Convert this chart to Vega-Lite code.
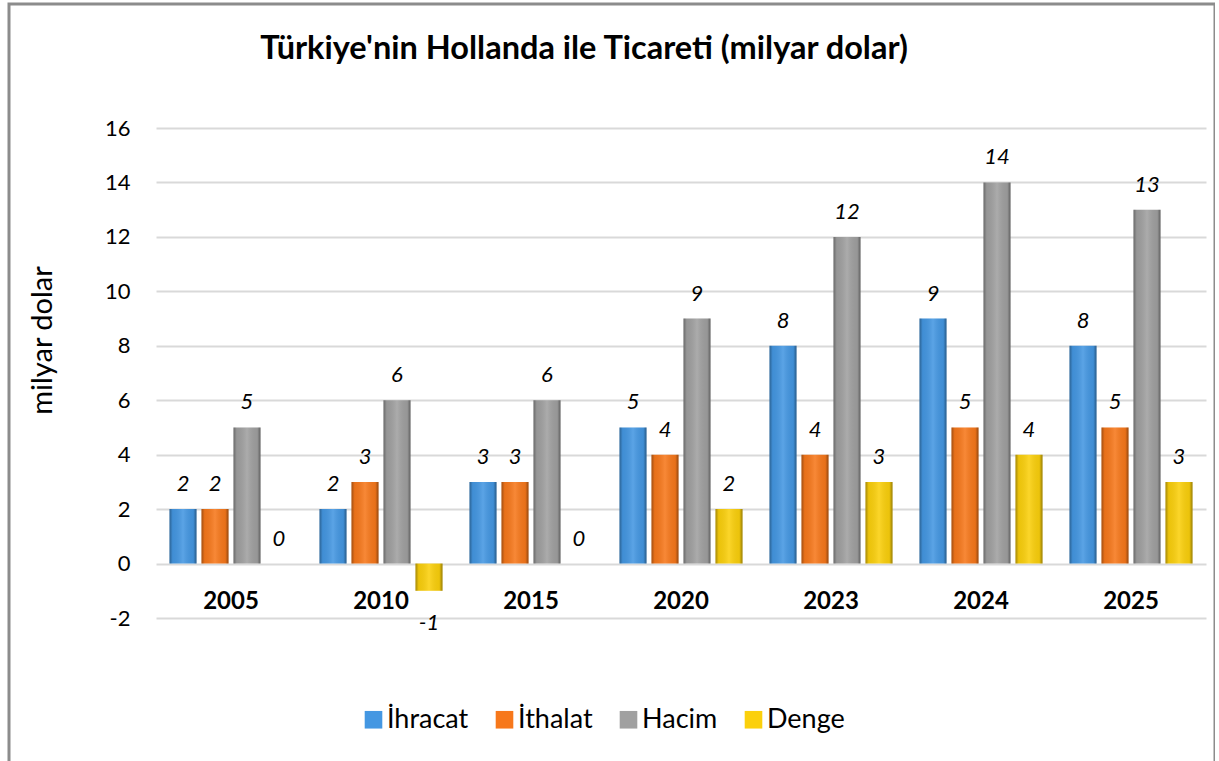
{
  "$schema": "https://vega.github.io/schema/vega-lite/v6.json",
  "autosize": "none",
  "padding": {"left": 9, "top": 4, "right": 0, "bottom": 0},
  "width": 1206,
  "height": 780,
  "background": "white",
  "config": {"view": {"stroke": "#8c8c8c", "strokeWidth": 3, "fill": "white"}, "font": "Lato"},
  "title": {
    "text": "Türkiye'nin Hollanda ile Ticareti (milyar dolar)",
    "font": "Lato", "fontSize": 32.5, "fontWeight": "bold", "color": "black",
    "anchor": "middle", "dx": -28, "dy": 87, "offset": 0, "baseline": "alphabetic"
  },
  "data": {"values": [
    {"year": "2005", "series": "İhracat", "value": 2},
    {"year": "2005", "series": "İthalat", "value": 2},
    {"year": "2005", "series": "Hacim", "value": 5},
    {"year": "2005", "series": "Denge", "value": 0},
    {"year": "2010", "series": "İhracat", "value": 2},
    {"year": "2010", "series": "İthalat", "value": 3},
    {"year": "2010", "series": "Hacim", "value": 6},
    {"year": "2010", "series": "Denge", "value": -1},
    {"year": "2015", "series": "İhracat", "value": 3},
    {"year": "2015", "series": "İthalat", "value": 3},
    {"year": "2015", "series": "Hacim", "value": 6},
    {"year": "2015", "series": "Denge", "value": 0},
    {"year": "2020", "series": "İhracat", "value": 5},
    {"year": "2020", "series": "İthalat", "value": 4},
    {"year": "2020", "series": "Hacim", "value": 9},
    {"year": "2020", "series": "Denge", "value": 2},
    {"year": "2023", "series": "İhracat", "value": 8},
    {"year": "2023", "series": "İthalat", "value": 4},
    {"year": "2023", "series": "Hacim", "value": 12},
    {"year": "2023", "series": "Denge", "value": 3},
    {"year": "2024", "series": "İhracat", "value": 9},
    {"year": "2024", "series": "İthalat", "value": 5},
    {"year": "2024", "series": "Hacim", "value": 14},
    {"year": "2024", "series": "Denge", "value": 4},
    {"year": "2025", "series": "İhracat", "value": 8},
    {"year": "2025", "series": "İthalat", "value": 5},
    {"year": "2025", "series": "Hacim", "value": 13},
    {"year": "2025", "series": "Denge", "value": 3}
  ]},
  "encoding": {
    "x": {
      "field": "year", "type": "nominal",
      "sort": ["2005", "2010", "2015", "2020", "2023", "2024", "2025"],
      "scale": {"range": [147, 1197], "paddingInner": 0.18, "paddingOuter": 0.09},
      "axis": {
        "title": null, "orient": "bottom", "offset": -221, "labelPadding": 26, "labelBaseline": "top",
        "domain": false, "ticks": false, "tickSize": 0, "grid": false, "labelAngle": 0,
        "labelFont": "Lato", "labelFontSize": 24, "labelFontWeight": "bold", "labelColor": "black"
      }
    },
    "xOffset": {
      "field": "series", "type": "nominal",
      "sort": ["İhracat", "İthalat", "Hacim", "Denge"],
      "scale": {"paddingInner": 0.156, "paddingOuter": 0}
    },
    "y": {
      "field": "value", "type": "quantitative",
      "scale": {"domain": [-2, 16], "range": [614, 124], "nice": false, "zero": false},
      "axis": {
        "title": "milyar dolar", "offset": -147,
        "values": [-2, 0, 2, 4, 6, 8, 10, 12, 14, 16],
        "labelExpr": "'' + datum.value",
        "domain": false, "ticks": false, "tickSize": 0, "labelPadding": 26,
        "labelFont": "Lato", "labelFontSize": 22, "labelColor": "black",
        "grid": true, "gridColor": "#d9d9d9", "gridWidth": 2,
        "titleFont": "Lato", "titleFontSize": 29, "titleFontWeight": "normal", "titleColor": "black",
        "titleX": -114, "titleY": 336, "titleAngle": -90, "titleAlign": "center", "titleBaseline": "middle"
      }
    }
  },
  "layer": [
    {
      "mark": {"type": "bar"},
      "encoding": {
        "y2": {"datum": 0},
        "color": {
          "field": "series", "type": "nominal",
          "scale": {"domain": ["İhracat", "İthalat", "Hacim", "Denge"], "range": ["#4497e2", "#f7781b", "#a0a0a0", "#fbd00c"]},
          "legend": {
            "orient": "none", "legendX": 351, "legendY": 702, "direction": "horizontal", "title": null,
            "symbolType": "square", "symbolSize": 310, "symbolStrokeWidth": 0, "symbolOpacity": 1,
            "labelFont": "Lato", "labelFontSize": 27, "labelColor": "black", "labelOffset": 0, "columnPadding": 22
          }
        }
      }
    },
    {
      "mark": {
        "type": "bar",
        "fill": {
          "gradient": "linear", "x1": 0, "y1": 0, "x2": 1, "y2": 0,
          "stops": [
            {"offset": 0, "color": "rgba(0,0,0,0.35)"},
            {"offset": 0.12, "color": "rgba(0,0,0,0.06)"},
            {"offset": 0.5, "color": "rgba(255,255,255,0.12)"},
            {"offset": 0.88, "color": "rgba(0,0,0,0.06)"},
            {"offset": 1, "color": "rgba(0,0,0,0.4)"}
          ]
        }
      },
      "encoding": {"y2": {"datum": 0}}
    },
    {
      "transform": [{"filter": "datum.value >= 0"}],
      "mark": {"type": "text", "font": "Lato", "fontSize": 22, "fontStyle": "italic", "color": "black", "baseline": "alphabetic", "dy": -18},
      "encoding": {"text": {"field": "value", "type": "nominal"}}
    },
    {
      "transform": [{"filter": "datum.value < 0"}],
      "mark": {"type": "text", "font": "Lato", "fontSize": 22, "fontStyle": "italic", "color": "black", "baseline": "alphabetic", "dy": 39},
      "encoding": {"text": {"field": "value", "type": "nominal"}}
    }
  ]
}
